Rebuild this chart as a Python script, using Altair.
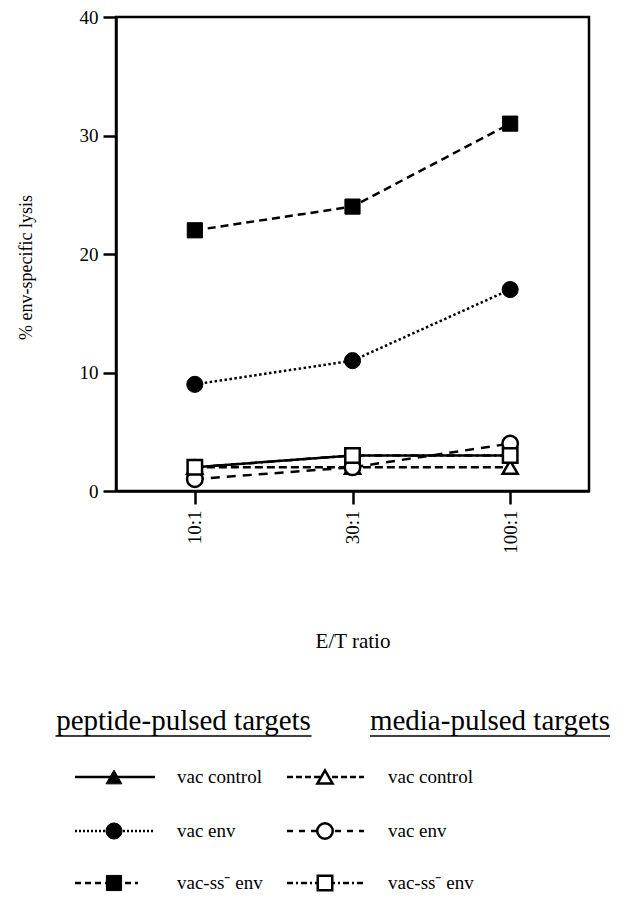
import altair as alt
import pandas as pd

# ---------------- data ----------------
ratios = ["10:1", "30:1", "100:1"]
groups = ["peptide-pulsed targets", "media-pulsed targets"]
kinds = ["vac control", "vac env", "vac-ss\u207b env"]

pep_vac_control = [2, 3, 3]
pep_vac_env = [9, 11, 17]
pep_vac_ss_env = [22, 24, 31]
med_vac_control = [2, 2, 2]
med_vac_env = [1, 2, 4]
med_vac_ss_env = [2, 3, 3]

series_values = [pep_vac_control, pep_vac_env, pep_vac_ss_env,
                 med_vac_control, med_vac_env, med_vac_ss_env]

y_ticks = [0, 10, 20, 30, 40]

# ---------------- styles ----------------
FONT = "Liberation Serif"
LINE_W = 2.5
SHAPES = ["triangle-up", "circle", "square"] * 2
FILLS = ["black"] * 3 + ["white"] * 3
SIZES = [250, 260, 230, 230, 240, 210]
PLOT_DASHES = [None, [2.5, 2.5], [8, 5], [8, 4], [9, 7], [8, 4, 2, 4]]
LEG_DASHES = [None, [2, 2], [6, 4], [6, 3], [6, 6], [6, 3, 2, 3]]

# plot area placement on the page (layout)
PLOT_X0, PLOT_Y0, PLOT_W, PLOT_H = 116, 17, 473, 474
PAGE_W, PAGE_H = 630, 900

xaxis = alt.Axis(labelAngle=270, labelFont=FONT, labelFontSize=19, labelColor="black",
                 tickSize=13, tickWidth=2.5, tickColor="black",
                 domainColor="black", domainWidth=2.5, labelPadding=6,
                 titleFont=FONT, titleFontSize=21, titleFontWeight="normal",
                 titleColor="black", titleY=156, titleBaseline="alphabetic",
                 grid=False)
yaxis = alt.Axis(values=y_ticks, labelFont=FONT, labelFontSize=19, labelColor="black",
                 tickSize=13, tickWidth=2.5, tickColor="black",
                 domainColor="black", domainWidth=2.5, labelPadding=5,
                 titleFont=FONT, titleFontSize=18, titleFontWeight="normal",
                 titleColor="black", titleX=-81, titleY=250, titleAngle=270,
                 titleBaseline="bottom", titleAlign="center", grid=False)

line_layers = []
point_layers = []
for i, vals in enumerate(series_values):
    name = f"{groups[i // 3]} {kinds[i % 3]}"
    df = pd.DataFrame({"ratio": ratios, "lysis": vals, "series": name})
    base = alt.Chart(df).encode(
        x=alt.X("ratio:O", sort=ratios, scale=alt.Scale(type="point", padding=0.5),
                axis=xaxis, title="E/T ratio"),
        y=alt.Y("lysis:Q", scale=alt.Scale(domain=[0, 40], nice=False),
                axis=yaxis, title="% env-specific lysis"),
    )
    lkw = dict(color="black", strokeWidth=LINE_W)
    if PLOT_DASHES[i]:
        lkw["strokeDash"] = PLOT_DASHES[i]
    line_layers.append(base.mark_line(**lkw))
    point_layers.append(base.mark_point(shape=SHAPES[i], filled=True, fill=FILLS[i],
                                        stroke="black",
                                        strokeWidth=2.5 if FILLS[i] == "white" else 1,
                                        size=SIZES[i], opacity=1))

main = alt.layer(*line_layers, *point_layers)

# ---------------- custom legend (layout constants, page coordinates) ----------------
HDR_X = [183.5, 490]
HDR_HALF = [128, 120]
HDR_Y, UL_Y = 730, 736
ROW_Y = [777, 831, 883]
LINE_X1 = [75, 75, 75, 287, 287, 287]
LINE_X2 = [155, 155, 138, 364, 364, 364]
MARK_X = [114, 114, 114, 325, 325, 325]
TEXT_X = [177, 388]

xs = alt.Scale(domain=[0, PAGE_W], range=[-PLOT_X0, PAGE_W - PLOT_X0])
ys = alt.Scale(domain=[0, PAGE_H], range=[-PLOT_Y0, PAGE_H - PLOT_Y0])

hdr_df = pd.DataFrame({"label": groups, "x": HDR_X, "y": [HDR_Y] * 2,
                       "x1": [c - h for c, h in zip(HDR_X, HDR_HALF)],
                       "x2": [c + h for c, h in zip(HDR_X, HDR_HALF)],
                       "yu": [UL_Y] * 2})
leg_layers = [
    alt.Chart(hdr_df).mark_text(font=FONT, fontSize=29, align="center",
                                baseline="alphabetic", color="black").encode(
        x=alt.X("x:Q", scale=xs, axis=None), y=alt.Y("y:Q", scale=ys, axis=None),
        text="label:N"),
    alt.Chart(hdr_df).mark_rule(color="black", strokeWidth=1.5).encode(
        x=alt.X("x1:Q", scale=xs, axis=None), x2="x2:Q",
        y=alt.Y("yu:Q", scale=ys, axis=None)),
]
for i in range(6):
    col, row = i // 3, i % 3
    e = pd.DataFrame({"x1": [LINE_X1[i]], "x2": [LINE_X2[i]], "xm": [MARK_X[i]],
                      "xt": [TEXT_X[col]], "y": [ROW_Y[row]], "label": [kinds[row]]})
    rkw = dict(color="black", strokeWidth=2.5)
    if LEG_DASHES[i]:
        rkw["strokeDash"] = LEG_DASHES[i]
    leg_layers.append(alt.Chart(e).mark_rule(**rkw).encode(
        x=alt.X("x1:Q", scale=xs, axis=None), x2="x2:Q",
        y=alt.Y("y:Q", scale=ys, axis=None)))
    leg_layers.append(alt.Chart(e).mark_point(
        shape=SHAPES[i], filled=True, fill=FILLS[i], stroke="black",
        strokeWidth=2.5 if FILLS[i] == "white" else 1, size=SIZES[i], opacity=1).encode(
        x=alt.X("xm:Q", scale=xs, axis=None), y=alt.Y("y:Q", scale=ys, axis=None)))
    leg_layers.append(alt.Chart(e).mark_text(
        font=FONT, fontSize=19, align="left", baseline="middle", color="black").encode(
        x=alt.X("xt:Q", scale=xs, axis=None), y=alt.Y("y:Q", scale=ys, axis=None),
        text="label:N"))

legend = alt.layer(*leg_layers)

chart = alt.layer(main, legend).resolve_scale(
    x="independent", y="independent"
).properties(
    width=PLOT_W, height=PLOT_H,
    autosize=alt.AutoSizeParams(type="none"),
    padding={"left": PLOT_X0 - 8, "top": PLOT_Y0 - 8,
             "right": PAGE_W - 16 - (PLOT_X0 - 8) - PLOT_W,
             "bottom": PAGE_H - 16 - (PLOT_Y0 - 8) - PLOT_H},
    view=alt.ViewBackground(stroke="black", strokeWidth=2.5),
).configure_view(strokeWidth=0)

chart.save("out.html", embed_options={"renderer": "svg", "actions": False})
